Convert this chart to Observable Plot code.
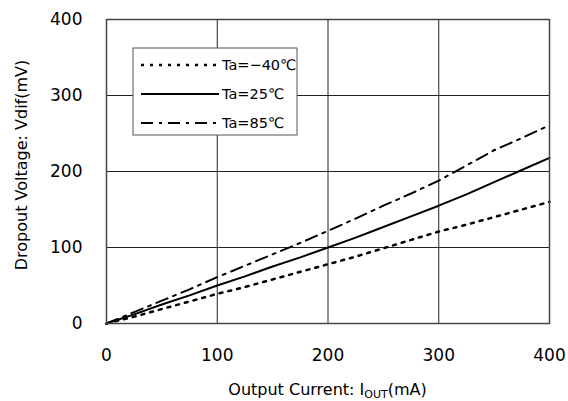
<!DOCTYPE html>
<html>
<head>
<meta charset="utf-8">
<script src="https://cdn.jsdelivr.net/npm/d3@7"></script>
<script src="https://cdn.jsdelivr.net/npm/@observablehq/plot@0.6"></script>
<style>
  html, body { margin: 0; padding: 0; background: #fff; }
  #chart svg { display: block; }
</style>
</head>
<body>
<div id="chart"></div>
<script>
// Data
const currents = [0, 25, 50, 75, 100, 125, 150, 175, 200, 225, 250, 275, 300, 325, 350, 375, 400];
const vdifM40 = [0, 9, 19, 29, 39, 48, 58, 68, 78, 88, 99, 110, 121, 130, 140, 150, 160];
const vdif25  = [0, 12, 25, 37, 50, 62, 75, 87, 100, 113, 127, 141, 155, 170, 186, 202, 218];
const vdif85  = [0, 15, 30, 45, 61, 76, 91, 106, 122, 138, 155, 171, 188, 208, 228, 244, 261];
const seriesNames = ["Ta=−40℃", "Ta=25℃", "Ta=85℃"];
const xTicks = [0, 100, 200, 300, 400];
const yTicks = [0, 100, 200, 300, 400];

const dashes = ["3,6", null, "12,6,3,6"];
const series = [vdifM40, vdif25, vdif85].map((vals, i) =>
  currents.map((c, j) => ({x: c, y: vals[j], s: seriesNames[i]}))
);

const FONT = "DejaVu Sans, sans-serif";

const chart = Plot.plot({
  width: 568,
  height: 401,
  marginLeft: 106,
  marginRight: 19,
  marginTop: 19,
  marginBottom: 78,
  style: {fontFamily: FONT, fontSize: "17px", color: "#000", background: "#fff"},
  x: {domain: [0, 400], ticks: xTicks, tickSize: 0, tickPadding: 25, label: null},
  y: {domain: [0, 400], ticks: yTicks, tickSize: 0, tickPadding: 24, label: null},
  marks: [
    Plot.ruleX(xTicks, {stroke: "#222", strokeWidth: 1}),
    Plot.ruleY(yTicks, {stroke: "#222", strokeWidth: 1}),
    ...series.map((d, i) => Plot.line(d, {
      x: "x", y: "y", stroke: "#000", strokeWidth: i === 0 ? 2.5 : 2,
      strokeDasharray: dashes[i] ?? undefined
    })),
    Plot.frame({stroke: "#444", strokeWidth: 1.5})
  ]
});

document.getElementById("chart").appendChild(chart);

// Axis titles and legend (text stays real text)
const svg = d3.select(chart);
const xs = chart.scale("x"), ys = chart.scale("y");
const cx = (xs.apply(0) + xs.apply(400)) / 2;
const cy = (ys.apply(0) + ys.apply(400)) / 2;

const xl = svg.append("text")
  .attr("x", cx).attr("y", 395)
  .attr("text-anchor", "middle")
  .attr("font-family", FONT).attr("font-size", 16).attr("fill", "#000");
xl.append("tspan").text("Output Current: I");
xl.append("tspan").attr("font-size", 11).attr("dy", 3).text("OUT");
xl.append("tspan").attr("dy", -3).text("(mA)");

svg.append("text")
  .attr("transform", `translate(27,${cy - 6}) rotate(-90)`)
  .attr("text-anchor", "middle")
  .attr("font-family", FONT).attr("font-size", 16).attr("fill", "#000")
  .text("Dropout Voltage: Vdif(mV)");

const lg = svg.append("g");
lg.append("rect").attr("x", 133).attr("y", 48).attr("width", 164).attr("height", 87)
  .attr("fill", "#fff").attr("stroke", "#555").attr("stroke-width", 1);
seriesNames.forEach((name, i) => {
  const yy = 65 + i * 29;
  const ln = lg.append("line").attr("x1", 141).attr("x2", 219).attr("y1", yy).attr("y2", yy)
    .attr("stroke", "#000").attr("stroke-width", i === 0 ? 2.5 : 2);
  if (dashes[i]) ln.attr("stroke-dasharray", dashes[i]);
  lg.append("text").attr("x", 222).attr("y", yy).attr("dy", "0.36em")
    .attr("text-anchor", "start")
    .attr("font-family", FONT).attr("font-size", 14.5).attr("fill", "#000").text(name);
});
</script>
</body>
</html>
